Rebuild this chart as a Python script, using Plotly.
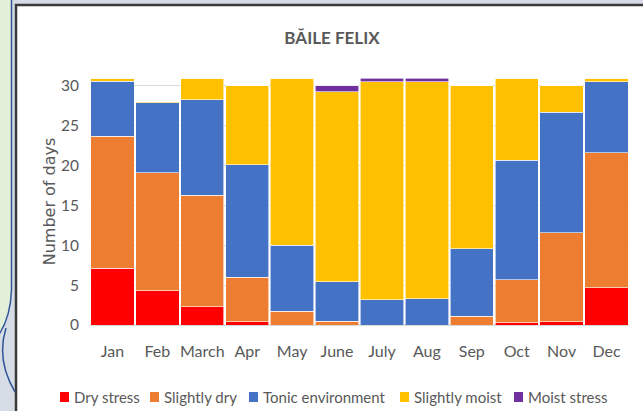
import plotly.graph_objects as go

months = ["Jan", "Feb", "March", "Apr", "May", "June", "July", "Aug", "Sep", "Oct", "Nov", "Dec"]
dry_stress = [7.1, 4.3, 2.3, 0.4, 0.0, 0.0, 0.0, 0.0, 0.0, 0.3, 0.4, 4.7]
slightly_dry = [16.6, 14.8, 14.0, 5.6, 1.7, 0.5, 0.0, 0.0, 1.1, 5.4, 11.2, 16.9]
tonic_env = [6.9, 8.8, 12.0, 14.1, 8.3, 4.9, 3.2, 3.3, 8.5, 15.0, 15.1, 8.9]
slightly_moist = [0.4, 0.1, 2.7, 9.9, 21.0, 23.9, 27.3, 27.2, 20.4, 10.3, 3.3, 0.5]
moist_stress = [0.0, 0.0, 0.0, 0.0, 0.0, 0.7, 0.5, 0.5, 0.0, 0.0, 0.0, 0.0]
y_ticks = [0, 5, 10, 15, 20, 25, 30]

series = [
    ("Dry stress", dry_stress, "#FF0000"),
    ("Slightly dry", slightly_dry, "#ED7D31"),
    ("Tonic environment", tonic_env, "#4472C4"),
    ("Slightly moist", slightly_moist, "#FFC000"),
    ("Moist stress", moist_stress, "#7030A0"),
]

W, H = 643, 411
ML, MR, MT, MB = 90, 14, 78, 86
PW, PH = W - ML - MR, H - MT - MB
GRAY = "#595959"
FONT = "Lato, Calibri, sans-serif"

def px(x):
    return (x - ML) / PW

def py(y):
    return (H - MB - y) / PH

fig = go.Figure()
for name, vals, col in series:
    fig.add_trace(go.Bar(
        x=months, y=vals, name=name, showlegend=False,
        marker=dict(color=col, line=dict(color="white", width=0.6)),
    ))

shapes = []
# white chart box with dark border
shapes.append(dict(type="rect", xref="paper", yref="paper", layer="below",
                   x0=px(16), x1=px(W + 5), y0=py(H + 5), y1=py(5),
                   fillcolor="white", line=dict(color="#3a3a3a", width=2.5)))
# green side panel
green_path = "M {},{} L {},{} L {},{} Q {},{} {},{} Z".format(
    px(-2), py(-2), px(11), py(-2), px(11), py(290), px(10), py(318), px(-2), py(336))
shapes.append(dict(type="path", xref="paper", yref="paper", layer="below",
                   path=green_path, fillcolor="#E2EFD9", line=dict(width=0)))
blue_path = "M {},{} L {},{} Q {},{} {},{}".format(
    px(11.5), py(-2), px(11.5), py(290), px(10.5), py(318), px(-2), py(336))
shapes.append(dict(type="path", xref="paper", yref="paper", layer="below",
                   path=blue_path, line=dict(color="#2F5597", width=1.5)))
curve_path = "M {},{} Q {},{} {},{}".format(
    px(6), py(328), px(-4), py(360), px(15), py(392))
shapes.append(dict(type="path", xref="paper", yref="paper", layer="below",
                   path=curve_path, line=dict(color="#2F5597", width=1.5)))

# manual legend (Excel style: small square right next to its label)
annotations = []
legend_sq_left = [60, 150, 249, 400, 514]
legend_y = 397
for (name, _, col), x0 in zip(series, legend_sq_left):
    shapes.append(dict(type="rect", xref="paper", yref="paper",
                       x0=px(x0), x1=px(x0 + 9), y0=py(legend_y + 5), y1=py(legend_y - 5),
                       fillcolor=col, line=dict(width=0)))
    annotations.append(dict(text=name, xref="paper", yref="paper", showarrow=False,
                            x=px(x0 + 12), y=py(legend_y), xanchor="left", yanchor="middle",
                            font=dict(family=FONT, size=15, color=GRAY)))

fig.update_layout(
    width=W, height=H,
    margin=dict(l=ML, r=MR, t=MT, b=MB, autoexpand=False),
    paper_bgcolor="#D6DCE5",
    plot_bgcolor="rgba(0,0,0,0)",
    barmode="stack",
    bargap=0.035,
    shapes=shapes,
    annotations=annotations,
    showlegend=False,
    title=dict(text="<b>BĂILE FELIX</b>", xref="container", x=332 / W, xanchor="center",
               yref="container", y=1 - 38 / H, yanchor="middle",
               font=dict(family=FONT, size=17, color=GRAY)),
    font=dict(family=FONT, color=GRAY),
    xaxis=dict(tickfont=dict(size=16, color=GRAY), showgrid=False, showline=False,
               ticks="", ticklabelstandoff=15, automargin=False),
    yaxis=dict(range=[0, 31], tickvals=y_ticks,
               tickfont=dict(size=15.5, color=GRAY),
               gridcolor="#D9D9D9", gridwidth=1, zeroline=True, zerolinecolor="#D9D9D9",
               showline=False, ticks="", ticklabelstandoff=10, automargin=False,
               title=dict(text="Number of days", standoff=1,
                          font=dict(family="DejaVu Sans, sans-serif", size=16, color=GRAY))),
)

fig.write_html("out.html", config={"displayModeBar": False},
               post_script="document.body.style.margin='0';document.body.style.overflow='hidden';")
